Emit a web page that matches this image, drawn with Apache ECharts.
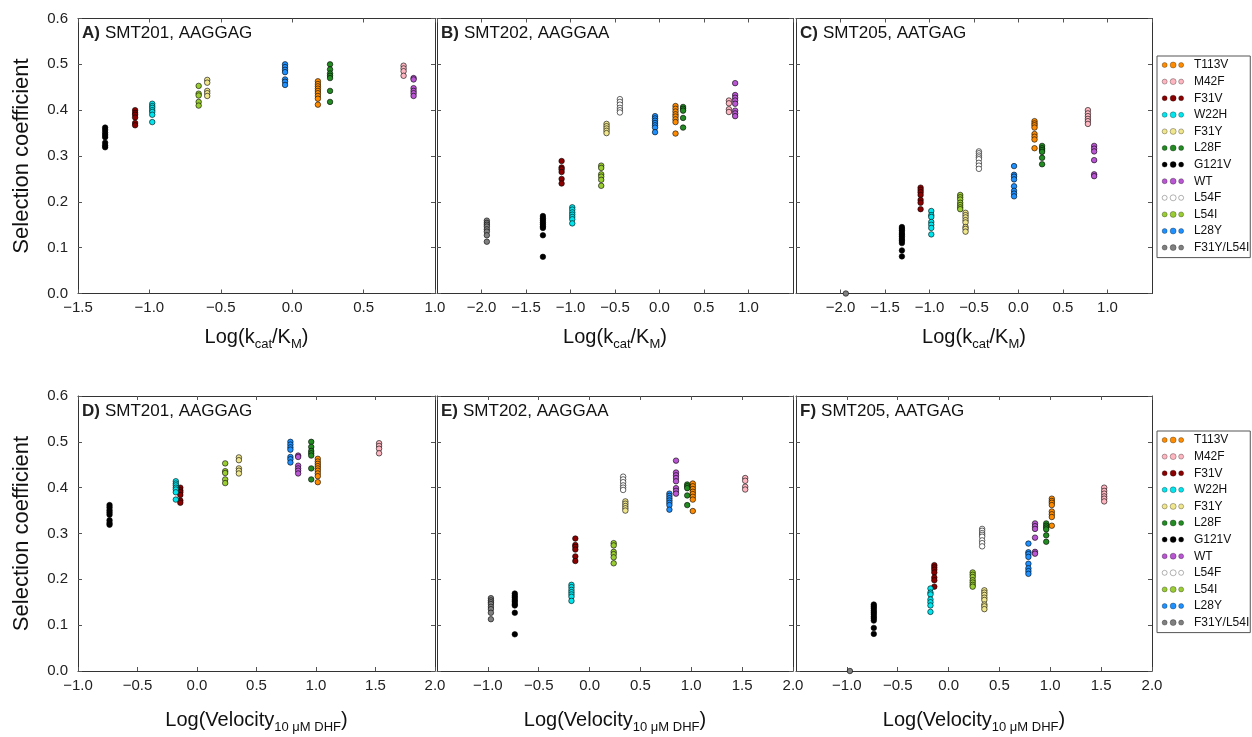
<!DOCTYPE html>
<html>
<head>
<meta charset="utf-8">
<script src="https://cdn.jsdelivr.net/npm/echarts@6/dist/echarts.min.js"></script>
<style>html,body{margin:0;padding:0;background:#fff}#c{width:1252px;height:737px}</style>
</head>
<body>
<div id="c"></div>
<script>
// ---- data ----
const mutants = ['T113V','M42F','F31V','W22H','F31Y','L28F','G121V','WT','L54F','L54I','L28Y','F31Y/L54I'];
const colors  = ['#FF8C00','#FFB6C1','#8B0000','#00E5EE','#F0E68C','#228B22','#000000','#BA55D3','#FFFFFF','#9ACD32','#1E90FF','#808080'];
const logKcatKm   = [0.18, 0.78, -1.10, -0.98, -0.595, 0.265, -1.31, 0.85, -0.445, -0.655, -0.05, -1.94];
const logVelocity = [1.015, 1.53, -0.14, -0.178, 0.352, 0.96, -0.735, 0.85, 0.33, 0.237, 0.785, -0.97];

const smt201 = [
  [0.463,0.457,0.452,0.447,0.442,0.437,0.431,0.425,0.412],
  [0.497,0.491,0.485,0.475],
  [0.400,0.394,0.390,0.384,0.372,0.367],
  [0.414,0.409,0.405,0.400,0.396,0.390,0.374],
  [0.466,0.460,0.442,0.437,0.431],
  [0.500,0.489,0.480,0.475,0.470,0.442,0.418],
  [0.362,0.357,0.351,0.346,0.341,0.329,0.323,0.319],
  [0.470,0.467,0.448,0.442,0.437,0.431],
  [],
  [0.453,0.436,0.432,0.418,0.410],
  [0.500,0.494,0.488,0.483,0.467,0.462,0.455],
  []
];
const smt202 = [
  [0.409,0.403,0.397,0.391,0.386,0.380,0.374,0.349],
  [0.421,0.415,0.402,0.396],
  [0.289,0.275,0.271,0.265,0.250,0.240],
  [0.188,0.183,0.177,0.172,0.167,0.162,0.153],
  [0.370,0.365,0.360,0.355,0.350],
  [0.407,0.403,0.399,0.383,0.362],
  [0.169,0.164,0.160,0.155,0.151,0.146,0.143,0.127,0.080],
  [0.459,0.433,0.427,0.421,0.414,0.399,0.393,0.387],
  [0.424,0.418,0.412,0.405,0.400,0.395],
  [0.279,0.274,0.260,0.255,0.248,0.235],
  [0.387,0.382,0.377,0.372,0.367,0.362,0.352],
  [0.159,0.154,0.150,0.146,0.140,0.135,0.127,0.113]
];
const smt205 = [
  [0.376,0.371,0.367,0.362,0.348,0.342,0.336,0.317],
  [0.400,0.393,0.387,0.381,0.376,0.370],
  [0.231,0.226,0.221,0.215,0.204,0.198,0.184],
  [0.180,0.171,0.167,0.156,0.150,0.143,0.129],
  [0.176,0.171,0.166,0.160,0.155,0.145,0.141,0.135],
  [0.322,0.317,0.313,0.309,0.296,0.282],
  [0.145,0.141,0.137,0.132,0.128,0.124,0.119,0.115,0.110,0.094,0.081],
  [0.322,0.316,0.310,0.291,0.260,0.256],
  [0.310,0.306,0.301,0.297,0.293,0.285,0.279,0.272],
  [0.215,0.210,0.205,0.198,0.193,0.188,0.184],
  [0.278,0.259,0.255,0.249,0.234,0.224,0.218,0.212],
  [0.0]
];

const panelLetters = ['A)','B)','C)','D)','E)','F)'];
const strainNames = ['SMT201, AAGGAG','SMT202, AAGGAA','SMT205, AATGAG'];
const yTicks = [0, 0.6, 0.1];             // min, max, interval
const kcatRanges = [[-1.5, 1.0], [-2.5, 1.5], [-2.5, 1.5]];
const velRanges  = [[-1.0, 2.0], [-1.5, 2.0], [-1.5, 2.0]];

// ---- layout ----
const FONT = 'Liberation Sans, Arial, Helvetica, sans-serif';
const gridLefts = [78, 437, 796];
const gridWidths = [357, 356, 356];
const gridTops = [18.5, 396];
const gridH = 275;

const grid = [], xAxis = [], yAxis = [], series = [], title = [];
const strains = [smt201, smt202, smt205];
const fmtX = v => (Math.abs(v) < 1e-9 ? '0.0' : v.toFixed(1).replace('-', '\u2212'));

let gi = 0;
for (let row = 0; row < 2; row++) {
  for (let col = 0; col < 3; col++) {
    grid.push({left: gridLefts[col], top: gridTops[row], width: gridWidths[col], height: gridH});
    const rng = row === 0 ? kcatRanges[col] : velRanges[col];
    const hideMin = !(col === 0);
    const hideMax = (row === 0 && col > 0);
    const tickCommon = {show: true, inside: true, length: 4, lineStyle: {color: '#555', width: 1}};
    const lineCommon = {show: true, onZero: false, lineStyle: {color: '#333', width: 1}};
    const mainX = {
      gridIndex: gi, type: 'value', position: 'bottom', min: rng[0], max: rng[1], interval: 0.5,
      axisLine: lineCommon, axisTick: tickCommon, splitLine: {show: false},
      axisLabel: {show: true, formatter: fmtX, color: '#222', fontSize: 15, margin: 7, fontFamily: FONT,
                  showMinLabel: !hideMin, showMaxLabel: !hideMax},
      nameLocation: 'middle', nameGap: row === 0 ? 32 : 37,
      name: row === 0 ? '{m|Log(k}{s|cat}{m|/K}{s|M}{m|)}' : '{m|Log(Velocity}{s|10 \u03BCM DHF}{m|)}',
      nameTextStyle: {rich: {
        m: {fontSize: 20, lineHeight: 24, color: '#111', fontFamily: FONT},
        s: {fontSize: 13, lineHeight: 13, padding: [14, 0, 0, 0], color: '#111', fontFamily: FONT}
      }}
    };
    const topX = {
      gridIndex: gi, type: 'value', position: 'top', min: rng[0], max: rng[1], interval: 0.5,
      axisLine: lineCommon, axisTick: tickCommon, splitLine: {show: false}, axisLabel: {show: false}
    };
    const mainXIndex = xAxis.length;
    xAxis.push(mainX, topX);
    const mainY = {
      gridIndex: gi, type: 'value', position: 'left', min: yTicks[0], max: yTicks[1], interval: yTicks[2],
      axisLine: lineCommon, axisTick: tickCommon, splitLine: {show: false},
      axisLabel: {show: col === 0, formatter: v => v.toFixed(1), color: '#222', fontSize: 15, margin: 10, fontFamily: FONT},
      name: col === 0 ? 'Selection coefficient' : '', nameLocation: 'middle', nameRotate: 90, nameGap: 45,
      nameTextStyle: {fontSize: 22, color: '#111', fontFamily: FONT}
    };
    const rightY = {
      gridIndex: gi, type: 'value', position: 'right', min: yTicks[0], max: yTicks[1], interval: yTicks[2],
      axisLine: lineCommon, axisTick: tickCommon, splitLine: {show: false}, axisLabel: {show: false}
    };
    const mainYIndex = yAxis.length;
    yAxis.push(mainY, rightY);

    const xs = row === 0 ? logKcatKm : logVelocity;
    const ys = strains[col];
    mutants.forEach((m, k) => {
      if (!ys[k].length) return;
      series.push({
        type: 'scatter', name: m, xAxisIndex: mainXIndex, yAxisIndex: mainYIndex,
        symbol: 'circle', symbolSize: 5.5,
        itemStyle: {color: colors[k], borderColor: '#000', borderWidth: 0.6, opacity: 1},
        emphasis: {disabled: true},
        data: ys[k].map(v => [xs[k], v])
      });
    });

    title.push({
      left: gridLefts[col] + 4, top: gridTops[row] + 6, padding: 0,
      text: '{b|' + panelLetters[gi] + '} {n|' + strainNames[col] + '}',
      textStyle: {fontWeight: 'normal', rich: {
        b: {fontSize: 17, fontWeight: 'bold', color: '#222', fontFamily: FONT},
        n: {fontSize: 17, fontWeight: 'normal', color: '#111', fontFamily: FONT}
      }}
    });
    gi++;
  }
}

const legendIcon = 'path://M0.5,3a2.5,2.5 0 1,0 5,0a2.5,2.5 0 1,0 -5,0ZM8.5,3a3,3 0 1,0 6,0a3,3 0 1,0 -6,0ZM17,3a2.5,2.5 0 1,0 5,0a2.5,2.5 0 1,0 -5,0Z';
const legendBase = {
  orient: 'vertical', left: 1157, padding: [2, 1, 3, 5], itemGap: 2.6, itemWidth: 22, itemHeight: 6,
  icon: legendIcon, data: mutants, selectedMode: false,
  itemStyle: {borderWidth: 0.3, borderColor: '#000'},
  textStyle: {fontSize: 12, lineHeight: 14, color: '#111', fontFamily: FONT, padding: [0, 0, 0, 5]},
  borderColor: '#555', borderWidth: 1
};
const legend = [Object.assign({top: 56}, legendBase), Object.assign({top: 431}, legendBase)];

const chart = echarts.init(document.getElementById('c'), null, {renderer: 'canvas'});
chart.setOption({
  animation: false,
  backgroundColor: '#fff',
  textStyle: {fontFamily: FONT},
  title, legend, grid, xAxis, yAxis, series
});
</script>
</body>
</html>
